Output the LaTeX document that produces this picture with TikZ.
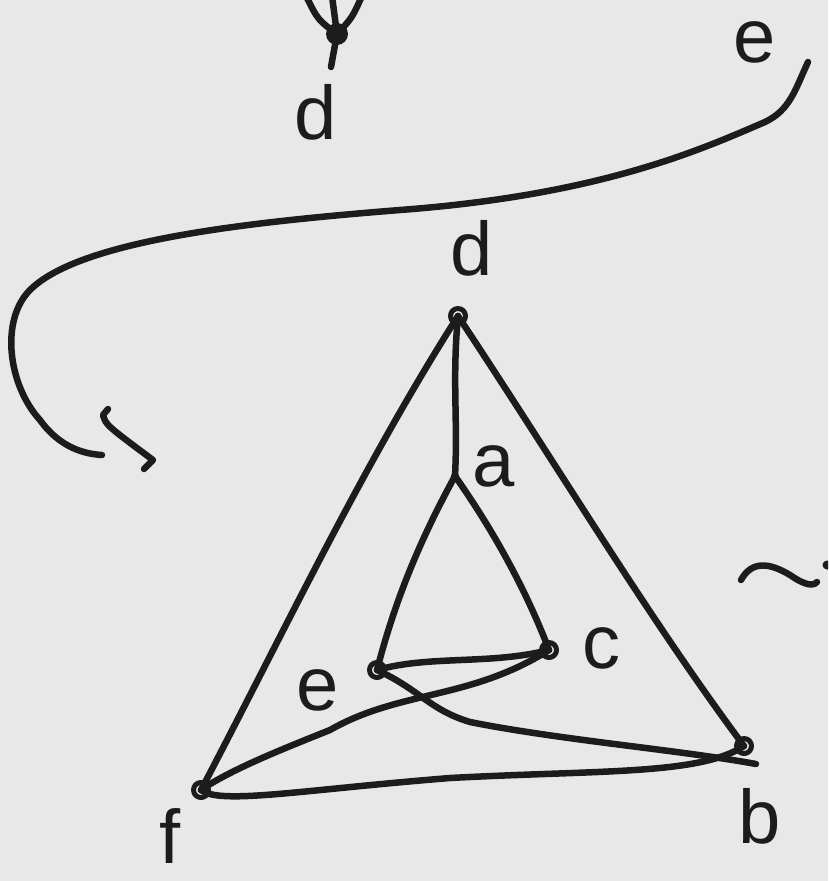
\documentclass[tikz,border=0pt]{standalone}
\usepackage{fontspec}
\setmainfont{Liberation Sans}
\definecolor{bg}{HTML}{E8E8E8}
\definecolor{ink}{HTML}{1C1C1C}
\begin{document}
\begin{tikzpicture}[x=1pt,y=-1pt,line width=6.5pt,line cap=round,line join=round,draw=ink,
  vtx/.style={circle,draw=ink,line width=5pt,inner sep=0pt,minimum size=15pt},
  pt/.style={circle,fill=ink,inner sep=0pt,minimum size=8pt},
  blob/.style={circle,fill=ink,inner sep=0pt,minimum size=22pt},
  lbl/.style={text=ink,font=\fontsize{76}{76}\selectfont,inner sep=0pt}]
\useasboundingbox[fill=bg] (0,0) rectangle (828,881);
\clip (0,0) rectangle (828,881);
% vertices
\node[vtx] (d) at (458,316) {};
\node[pt]  (a) at (455,476) {};
\node[vtx] (c) at (549,650) {};
\node[vtx] (e) at (377,670) {};
\node[vtx] (f) at (201,790) {};
\node[vtx] (b) at (744,746) {};
\node[blob] (t) at (337,34) {};
\coordinate (tl) at (306,-4);
\coordinate (tr) at (362,-4);
\coordinate (tv) at (332,-4);
\coordinate (ts) at (331,67);
% labels
\node[lbl] (ld1) at (316,112) {d};
\node[lbl] (le1) at (755,42) {e};
\node[lbl] (ld2) at (472,248) {d};
\node[lbl] (la)  at (494,466) {a};
\node[lbl] (lc)  at (601,648) {c};
\node[lbl] (le2) at (318,690) {e};
\node[lbl] (lf)  at (170,836) {f};
\node[lbl] (lb)  at (760,816) {b};
% top loop
\draw (t.center) .. controls (318,20) .. (tl);
\draw (t.center) .. controls (352,18) .. (tr);
\draw (t.center) -- (tv);
\draw (t.center) -- (ts);
% triangle edges
\draw (d.center) .. controls (452,380) and (458,420) .. (a.center);
\draw (d.center) .. controls (360,470) and (280,640) .. (f.center);
\draw (d.center) .. controls (560,470) and (650,620) .. (b.center);
\draw (a.center) .. controls (420,540) and (395,600) .. (e.center);
\draw (a.center) .. controls (500,540) and (530,600) .. (c.center);
\draw (e.center) .. controls (430,655) and (490,665) .. (c.center);
\draw (c.center) .. controls (470,700) and (400,690) .. (330,730) .. controls (280,750) and (230,770) .. (f.center);
\draw (e.center) .. controls (420,690) and (430,710) .. (470,722) .. controls (560,740) and (680,750) .. (756,764);
\draw (f.center) .. controls (220,805) and (300,790) .. (450,778) .. controls (600,770) and (700,775) .. (b.center);
% big curve
\coordinate (cs) at (808,62);
\coordinate (ce) at (102,455);
\draw (cs) .. controls (795,90) and (790,110) .. (765,122)
  .. controls (700,150) and (600,195) .. (400,210)
  .. controls (250,222) and (80,240) .. (30,290)
  .. controls (0,320) and (8,385) .. (40,420)
  .. controls (60,448) and (85,454) .. (ce);
% hook
\coordinate (h1) at (108,409);
\coordinate (h2) at (103,415);
\coordinate (h3) at (153,460);
\coordinate (h4) at (144,469);
\draw (h1) -- (h2) .. controls (106,425) .. (h3) -- (h4);
% tilde
\coordinate (s1) at (741,580);
\coordinate (s2) at (817,582);
\draw (s1) .. controls (752,560) and (770,563) .. (790,575) .. controls (800,582) and (812,588) .. (s2);
\node[pt,minimum size=9pt] (dot) at (827,565) {};
\end{tikzpicture}
\end{document}
